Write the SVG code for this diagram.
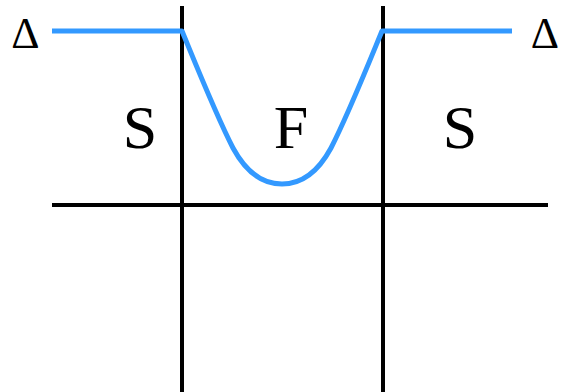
<svg xmlns="http://www.w3.org/2000/svg" width="561" height="392" viewBox="0 0 561 392">
<style>
.ax{stroke:#000;stroke-width:4;fill:none}
.curve{stroke:#3399ff;stroke-width:5;fill:none;stroke-linejoin:round}
text{font-family:'Liberation Serif',serif;fill:#000;text-anchor:middle}
.big{font-size:62px}
.delta{font-size:44px}
</style>
<rect width="561" height="392" fill="#fff"/>
<g id="connectors">
<line class="ax" x1="182" y1="6" x2="182" y2="392"/>
<line class="ax" x1="383" y1="6" x2="383" y2="392"/>
<line class="ax" x1="52" y1="205" x2="548" y2="205"/>
</g>
<g id="curve">
<path class="curve" d="M52,31 L182,31 C194,60 216,115 233,148 C246,172 262,184 282,184 C302,184 318,172 331,148 C348,115 370,60 382,31 L512,31"/>
</g>
<g id="label-delta-left"><text class="delta" x="25.5" y="48" font-family="Liberation Serif, serif">Δ</text></g>
<g id="label-delta-right"><text class="delta" x="545" y="48" font-family="Liberation Serif, serif">Δ</text></g>
<g id="label-S-left"><text class="big" x="140" y="148" font-family="Liberation Serif, serif">S</text></g>
<g id="label-F"><text class="big" x="291" y="148" font-family="Liberation Serif, serif">F</text></g>
<g id="label-S-right"><text class="big" x="460" y="148" font-family="Liberation Serif, serif">S</text></g>
</svg>
